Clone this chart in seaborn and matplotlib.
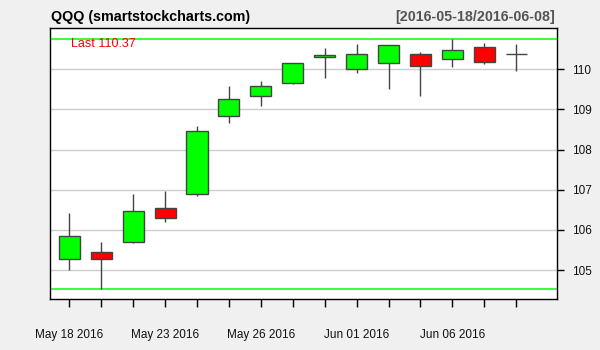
import matplotlib
matplotlib.use("Agg")
import matplotlib.pyplot as plt
import seaborn as sns
import pandas as pd

# ---- data ----
dates = ["2016-05-18", "2016-05-19", "2016-05-20", "2016-05-23", "2016-05-24",
         "2016-05-25", "2016-05-26", "2016-05-27", "2016-05-31", "2016-06-01",
         "2016-06-02", "2016-06-03", "2016-06-06", "2016-06-07", "2016-06-08"]
opens = [105.27, 105.44, 105.71, 106.54, 106.90, 108.84, 109.34, 109.65,
         110.30, 110.00, 110.15, 110.37, 110.25, 110.56, 110.37]
highs = [106.42, 105.70, 106.89, 106.97, 108.59, 109.58, 109.71, 110.15,
         110.53, 110.63, 110.60, 110.42, 110.76, 110.65, 110.63]
lows = [105.01, 104.53, 105.67, 106.20, 106.85, 108.67, 109.09, 109.63,
        109.79, 109.92, 109.52, 109.34, 110.06, 110.14, 109.96]
closes = [105.84, 105.28, 106.46, 106.30, 108.46, 109.26, 109.58, 110.15,
          110.36, 110.37, 110.60, 110.07, 110.47, 110.19, 110.37]
label_every = [0, 3, 6, 9, 12]
yticks = [105, 106, 107, 108, 109, 110]
symbol = "QQQ"

df = pd.DataFrame({"date": pd.to_datetime(dates), "open": opens, "high": highs,
                   "low": lows, "close": closes})
df["idx"] = range(len(df))

sns.set_theme(style="white")
plt.rcParams["font.family"] = ["Liberation Sans", "DejaVu Sans"]

fig = plt.figure(figsize=(6, 3.5), dpi=100, facecolor="#f0f0f0")
ax = fig.add_axes([50.3 / 600, 1 - 299 / 350, (556.5 - 50.3) / 600, (299 - 28.3) / 350])
ax.set_facecolor("white")

edge = "#444444"
# wicks
ax.vlines(df["idx"], df["low"], df["high"], color=edge, lw=1.0, zorder=2)
# bodies
colors = []
for o, c in zip(df["open"], df["close"]):
    if c > o:
        colors.append("#00ff00")
    elif c < o:
        colors.append("#ff0000")
    else:
        colors.append(edge)
bottoms = df[["open", "close"]].min(axis=1)
heights = (df["close"] - df["open"]).abs()
ax.bar(df["idx"], heights, bottom=bottoms, width=0.66, color=colors,
       edgecolor=edge, linewidth=1.0, zorder=3)

# range lines
ax.axhline(df["high"].max(), color="#00ff00", lw=1.1, zorder=1.5)
ax.axhline(df["low"].min(), color="#00ff00", lw=1.1, zorder=1.5)

ax.set_xlim(-0.594, 15.26)
ax.set_ylim(104.278, 111.021)

# grid
ax.set_yticks(yticks)
ax.yaxis.grid(True, color="#cccccc", lw=1.0, zorder=0)
ax.xaxis.grid(False)
ax.set_axisbelow(True)

# ticks
ax.yaxis.tick_right()
ax.tick_params(axis="y", which="both", direction="out", length=5, width=1,
               color="black", pad=6, labelsize=8.5, labelcolor="#111111",
               left=False, right=True)
ax.set_xticks(df["idx"])
xlabels = [d.strftime("%b %d %Y") if i in label_every else ""
           for i, d in enumerate(df["date"])]
ax.set_xticklabels(xlabels)
ax.tick_params(axis="x", direction="out", length=5.5, width=1, color="black",
               pad=16, labelsize=8.5, labelcolor="#111111", bottom=True)

for s in ax.spines.values():
    s.set_visible(True)
    s.set_color("black")
    s.set_linewidth(1.0)

# last label
ax.text(0.04, 110.78, f"Last {closes[-1]:.2f}", color="#ff0000", fontsize=9,
        va="top", ha="left")

fig.text(51 / 600, 1 - 20.7 / 350, f"{symbol} (smartstockcharts.com)",
         fontsize=10.3, fontweight="bold", color="black", ha="left", va="baseline")
fig.text(555 / 600, 1 - 20.7 / 350, f"[{dates[0]}/{dates[-1]}]",
         fontsize=10.3, fontweight="bold", color="#555555", ha="right", va="baseline")

fig.savefig("out.png", dpi=100, facecolor=fig.get_facecolor())
